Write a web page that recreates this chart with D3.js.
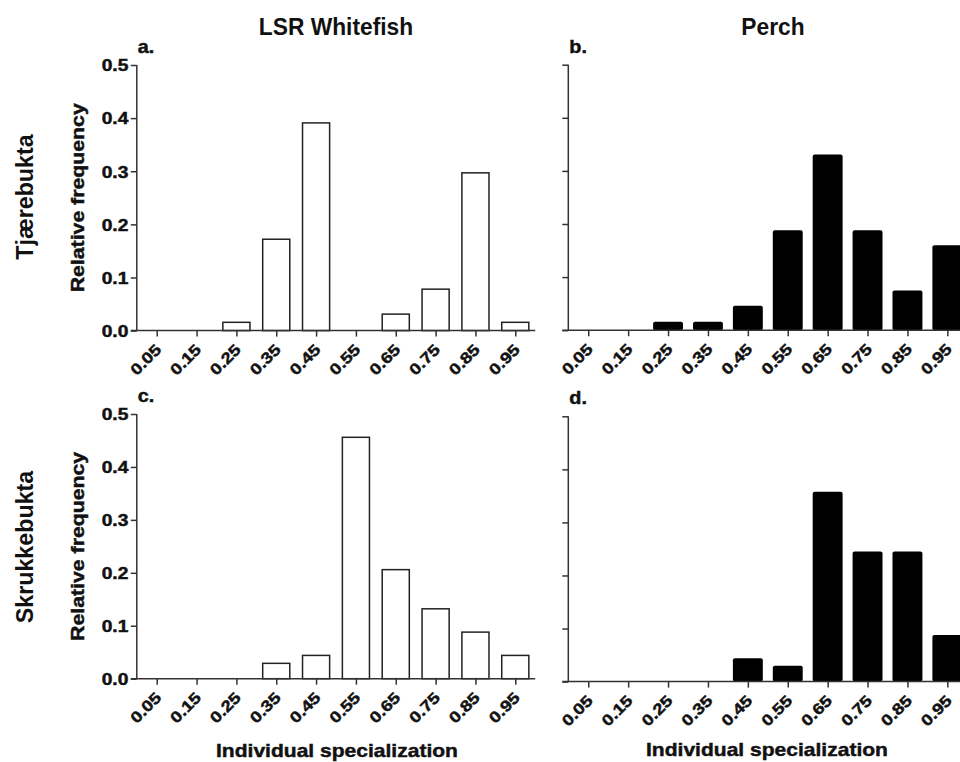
<!DOCTYPE html>
<html>
<head>
<meta charset="utf-8">
<script src="https://cdn.jsdelivr.net/npm/d3@7"></script>
<style>
  html, body { margin: 0; padding: 0; background: #fff; }
  svg { display: block; font-family: "Liberation Sans", Arial, sans-serif; font-weight: bold; }
  .heavy { stroke: #111; stroke-width: 0.45px; paint-order: stroke; }
</style>
</head>
<body>
<svg id="chart" width="960" height="762"></svg>
<script>
// Bin centres of individual specialization
const bins = [0.05, 0.15, 0.25, 0.35, 0.45, 0.55, 0.65, 0.75, 0.85, 0.95];
const binLabels = ["0.05", "0.15", "0.25", "0.35", "0.45", "0.55", "0.65", "0.75", "0.85", "0.95"];
const yTicks = [0, 0.1, 0.2, 0.3, 0.4, 0.5];

// Relative frequencies per bin
const whitefishTjaerebukta = [0, 0, 0.0156, 0.172, 0.391, 0, 0.031, 0.078, 0.297, 0.0156];
const perchTjaerebukta     = [0, 0, 0.016, 0.016, 0.046, 0.188, 0.331, 0.188, 0.075, 0.16];
const whitefishSkrukkebukta = [0, 0, 0, 0.029, 0.044, 0.456, 0.206, 0.132, 0.088, 0.044];
const perchSkrukkebukta     = [0, 0, 0, 0, 0.044, 0.03, 0.358, 0.245, 0.245, 0.088];

const species = ["LSR Whitefish", "Perch"];
const sites = ["Tjærebukta", "Skrukkebukta"];
const panelLetters = ["a.", "b.", "c.", "d."];

const svg = d3.select("#chart");
const axisColor = "#333";
const ink = "#111";

// wide-set label glyphs
const wide = 1.2;

const panels = [
  { values: whitefishTjaerebukta, letter: panelLetters[0], x0: 136.8, x1: 535.2, yTop: 65,    yZero: 330.6, filled: false, yLabels: true },
  { values: perchTjaerebukta,     letter: panelLetters[1], x0: 568.3, x1: 967.3, yTop: 64.7,  yZero: 330.2, filled: true,  yLabels: false },
  { values: whitefishSkrukkebukta, letter: panelLetters[2], x0: 136.8, x1: 535.2, yTop: 414,   yZero: 678.7, filled: false, yLabels: true },
  { values: perchSkrukkebukta,     letter: panelLetters[3], x0: 568.3, x1: 967.3, yTop: 416.3, yZero: 681.6, filled: true,  yLabels: false }
];

panels.forEach((p) => {
  const x = d3.scaleLinear().domain([0, 1]).range([p.x0, p.x1]);
  const y = d3.scaleLinear().domain([0, 0.5]).range([p.yZero, p.yTop]);
  const g = svg.append("g");

  // bars
  const bw = p.filled ? 0.075 : 0.068;
  const data = bins.map((b, k) => ({ b, v: p.values[k] })).filter(d => d.v > 0);
  g.selectAll("rect.bar").data(data).enter().append("rect")
    .attr("class", "bar")
    .attr("x", d => x(d.b - bw / 2))
    .attr("width", d => x(d.b + bw / 2) - x(d.b - bw / 2))
    .attr("y", d => y(d.v))
    .attr("height", d => y(0) - y(d.v))
    .attr("rx", p.filled ? 2 : 0)
    .attr("fill", p.filled ? "#000" : "#fff")
    .attr("stroke", p.filled ? "none" : "#222")
    .attr("stroke-width", 1.5);

  // y axis
  const yAxis = d3.axisLeft(y).tickValues(yTicks).tickSize(6).tickPadding(3)
    .tickFormat(p.yLabels ? d3.format(".1f") : () => "");
  const ya = g.append("g").attr("transform", `translate(${p.x0},0)`).call(yAxis);
  ya.attr("font-family", null).attr("font-size", null);
  ya.select(".domain").attr("d", `M0,${p.yTop}V${p.yZero}`);
  ya.selectAll("path, line").attr("stroke", axisColor).attr("stroke-width", 1.5);
  ya.selectAll("text").attr("class", "heavy").attr("fill", ink).style("font-size", "16px")
    .attr("x", 0).attr("dy", "0.36em")
    .attr("transform", `translate(-8.5,0) scale(${wide},1)`);

  // x axis
  const xAxis = d3.axisBottom(x).tickValues(bins).tickSize(6)
    .tickFormat((d, k) => binLabels[k]);
  const xa = g.append("g").attr("transform", `translate(0,${p.yZero})`).call(xAxis);
  xa.attr("font-family", null).attr("font-size", null);
  xa.select(".domain").attr("d", `M${p.x0 - 6},0H${p.x1}`);
  xa.selectAll("path, line").attr("stroke", axisColor).attr("stroke-width", 1.5);
  xa.selectAll("text")
    .attr("class", "heavy")
    .attr("fill", ink)
    .style("font-size", "15.5px")
    .attr("text-anchor", "end")
    .attr("y", 0).attr("dy", 0)
    .attr("transform", `translate(5,20) rotate(-45) scale(${wide},1)`);

  // panel letter
  svg.append("text").attr("class", "heavy")
    .attr("transform", `translate(${p.x0 + 1},${p.yTop - 12}) scale(1.1,1)`)
    .style("font-size", "18px").attr("fill", ink).text(p.letter);

  // y axis title
  if (p.yLabels) {
    svg.append("text").attr("class", "heavy")
      .attr("transform", `translate(84,${(p.yTop + p.yZero) / 2}) rotate(-90) scale(1.12,1)`)
      .attr("text-anchor", "middle")
      .style("font-size", "19px").attr("fill", ink)
      .text("Relative frequency");
  }
});

// column titles
svg.append("text").attr("transform", "translate(336,35) scale(0.93,1)").attr("text-anchor", "middle")
  .style("font-size", "24.5px").attr("fill", ink).text(species[0]);
svg.append("text").attr("transform", "translate(773,35) scale(0.93,1)").attr("text-anchor", "middle")
  .style("font-size", "24.5px").attr("fill", ink).text(species[1]);

// row titles
svg.append("text").attr("transform", "translate(33,197) rotate(-90) scale(0.95,1)").attr("text-anchor", "middle")
  .style("font-size", "24.5px").attr("fill", ink).text(sites[0]);
svg.append("text").attr("transform", "translate(33,547) rotate(-90) scale(0.95,1)").attr("text-anchor", "middle")
  .style("font-size", "24.5px").attr("fill", ink).text(sites[1]);

// x axis titles
svg.append("text").attr("class", "heavy").attr("transform", "translate(337,757) scale(1.12,1)").attr("text-anchor", "middle")
  .style("font-size", "18.8px").attr("fill", ink).text("Individual specialization");
svg.append("text").attr("class", "heavy").attr("transform", "translate(767,756) scale(1.12,1)").attr("text-anchor", "middle")
  .style("font-size", "18.8px").attr("fill", ink).text("Individual specialization");
</script>
</body>
</html>
